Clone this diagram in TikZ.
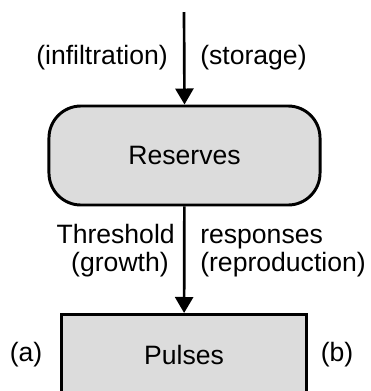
\documentclass[tikz,border=0pt]{standalone}
\usepackage{fontspec}
\setmainfont{Liberation Sans}
\usetikzlibrary{arrows.meta}
\definecolor{boxgray}{RGB}{220,220,220}

\begin{document}
\begin{tikzpicture}[x=0.025cm,y=-0.025cm,
  box/.style={draw,line width=2.1pt,fill=boxgray,inner sep=0,font=\fontsize{18.9}{22}\selectfont},
  lab/.style={inner sep=0,font=\fontsize{18.9}{22}\selectfont},
  flow/.style={line width=1.9pt,-{Triangle[length=0.4cm,width=0.45cm]}}]
\useasboundingbox (0,0) rectangle (371,391);
\clip (0,0) rectangle (371,391);
\coordinate (top) at (184,12);
\node[box,rounded corners=0.8cm,minimum width=6.775cm,minimum height=2.475cm] (reserves) at (184.5,155.5) {Reserves};
\node[box,anchor=north,minimum width=6.1cm,minimum height=2.05cm] (pulses) at (184,313) {Pulses};
\draw[flow] (top) -- (reserves.north);
\draw[flow] (reserves) -- (pulses);
% labels
\node[lab,anchor=base east] (infil) at (168,64) {(infiltration)};
\node[lab,anchor=base west] (stor) at (200,64) {(storage)};
\node[lab,anchor=base east] (thresh) at (175,243) {Threshold};
\node[lab,anchor=base east] (growth) at (169,271) {(growth)};
\node[lab,anchor=base west] (resp) at (200,243) {responses};
\node[lab,anchor=base west] (repro) at (200,271) {(reproduction)};
\node[lab] (a) at (26,355) {(a)};
\node[lab] (b) at (337,355) {(b)};
\end{tikzpicture}
\end{document}
